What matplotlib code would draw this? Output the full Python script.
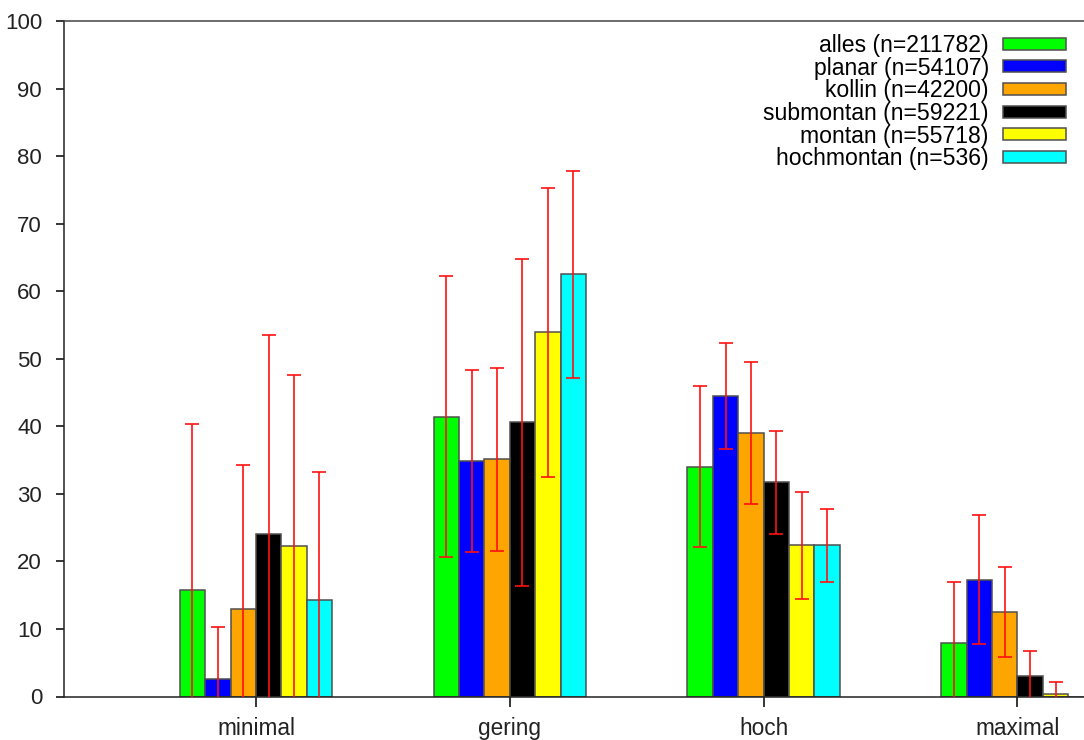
import matplotlib
matplotlib.use("Agg")
import matplotlib.pyplot as plt
import numpy as np
from matplotlib.patches import Patch

plt.rcParams['font.family'] = ['Liberation Sans', 'DejaVu Sans']

# Kategorien und Serien
kategorien = ["minimal", "gering", "hoch", "maximal"]
serien = ["alles (n=211782)", "planar (n=54107)", "kollin (n=42200)",
          "submontan (n=59221)", "montan (n=55718)", "hochmontan (n=536)"]
farben = ['#00FF00', '#0000FF', '#FFA500', '#000000', '#FFFF00', '#00FFFF']

# Mittelwerte je Serie (minimal, gering, hoch, maximal)
alles      = [15.8, 41.4, 34.0, 7.9]
planar     = [2.6, 34.9, 44.5, 17.3]
kollin     = [12.9, 35.1, 39.0, 12.5]
submontan  = [24.0, 40.6, 31.7, 3.1]
montan     = [22.3, 53.9, 22.4, 0.35]
hochmontan = [14.3, 62.5, 22.4, 0.0]

# Standardabweichungen (nan = kein Fehlerbalken)
alles_sd      = [24.5, 20.8, 11.9, 9.1]
planar_sd     = [7.7, 13.5, 7.8, 9.5]
kollin_sd     = [21.4, 13.6, 10.5, 6.7]
submontan_sd  = [29.5, 24.2, 7.6, 3.6]
montan_sd     = [25.3, 21.4, 7.9, 1.8]
hochmontan_sd = [18.9, 15.3, 5.4, np.nan]

werte = [alles, planar, kollin, submontan, montan, hochmontan]
fehler = [alles_sd, planar_sd, kollin_sd, submontan_sd, montan_sd, hochmontan_sd]

fig = plt.figure(figsize=(10.84, 7.40), dpi=100)
ax = fig.add_axes([64.3 / 1084, 43.5 / 740, 1 - 64.3 / 1084, (696.5 - 21) / 740])

x = np.arange(len(kategorien))
breite = 0.1
for j, (w, sd, farbe) in enumerate(zip(werte, fehler, farben)):
    pos = x + (j - 2.5) * breite
    ax.bar(pos, w, width=breite, color=farbe, edgecolor='#505050', linewidth=1.1, zorder=2)
    ax.errorbar(pos, w, yerr=sd, fmt='none', ecolor='#FF1010', elinewidth=1.2,
                capsize=4.7, capthick=1.2, zorder=3)

ax.set_xlim(-0.755, 3.262)
ax.set_ylim(0, 100)
ax.set_yticks(np.arange(0, 101, 10))
ax.set_xticks(x)
ax.set_xticklabels(kategorien)

for s in ['left', 'bottom', 'top']:
    ax.spines[s].set_color('#222222')
    ax.spines[s].set_linewidth(1.1)
ax.spines['top'].set_color('#444444')
ax.spines['right'].set_visible(False)
ax.tick_params(axis='y', direction='out', length=5.5, width=1.1, pad=10.5,
               labelsize=16, labelcolor='#222222')
ax.tick_params(axis='x', direction='out', length=7, width=1.1, pad=8,
               labelsize=16.3, labelcolor='#222222')

handles = [Patch(facecolor=f, edgecolor='#505050', linewidth=1.1) for f in farben]
ax.legend(handles, serien, loc='upper right', bbox_to_anchor=(1066 / 1084, 1 - 34 / 740),
          bbox_transform=fig.transFigure, frameon=False, markerfirst=False,
          fontsize=16.6, handlelength=2.75, handleheight=0.42, handletextpad=0.6,
          labelspacing=-0.015, borderpad=0, borderaxespad=0)

fig.savefig("out.png", dpi=100)
